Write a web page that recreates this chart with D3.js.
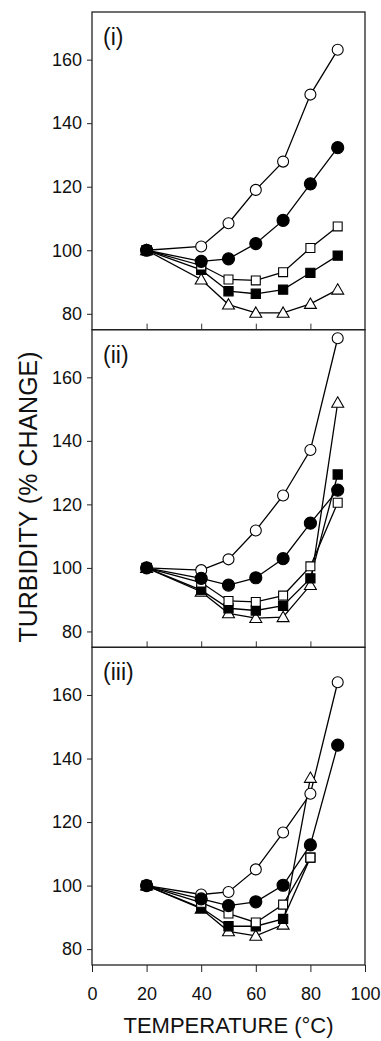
<!DOCTYPE html>
<html>
<head>
<meta charset="utf-8">
<script src="https://cdn.jsdelivr.net/npm/d3@7"></script>
<style>
  html, body { margin: 0; padding: 0; background: #fff; }
  svg { display: block; font-family: "Liberation Sans", Arial, sans-serif; }
</style>
</head>
<body>
<svg id="chart" width="381" height="1041"></svg>
<script>
// ---- Data ----
const temperatures = [20, 40, 50, 60, 70, 80, 90];
const panelLabels = ["(i)", "(ii)", "(iii)"];
const yTicks = [80, 100, 120, 140, 160];
const xTicks = [0, 20, 40, 60, 80, 100];

// Panel (i)
const i_openCircle   = [100, 101.2, 108.5, 119.0, 127.9, 149.0, 163.1];
const i_filledCircle = [100, 96.5, 97.3, 102.1, 109.4, 120.9, 132.3];
const i_openSquare   = [100, 95.2, 90.8, 90.5, 93.1, 100.7, 107.5];
const i_filledSquare = [100, 93.8, 87.1, 86.3, 87.6, 92.9, 98.3];
const i_openTriangle = [100, 90.8, 82.9, 80.3, 80.3, 83.1, 87.6];

// Panel (ii)
const ii_openCircle   = [100, 99.3, 102.7, 111.8, 122.8, 137.1, 172.3];
const ii_filledCircle = [100, 96.7, 94.6, 96.9, 102.9, 114.1, 124.5];
const ii_openSquare   = [100, 95.4, 89.6, 89.3, 91.3, 100.5, 120.5];
const ii_filledSquare = [100, 93.0, 87.3, 86.6, 88.1, 96.7, 129.4];
const ii_openTriangle = [100, 92.5, 85.7, 84.2, 84.5, 94.6, 152.0];

// Panel (iii)
const iii_openCircle   = [100, 97.2, 98.0, 105.1, 116.7, 128.9, 164.0];
const iii_filledCircle = [100, 95.8, 93.7, 94.9, 100.1, 112.8, 144.2];
const iii_openSquare   = [100, 94.6, 91.2, 88.4, 94.0, 108.8, null];
const iii_filledSquare = [100, 93.0, 87.2, 87.2, 89.5, 108.8, null];
const iii_openTriangle = [100, 92.7, 85.6, 84.2, 87.7, 133.9, null];

const seriesTypes = ["openCircle", "filledCircle", "openSquare", "filledSquare", "openTriangle"];
const panelSeries = [
  [i_openCircle, i_filledCircle, i_openSquare, i_filledSquare, i_openTriangle],
  [ii_openCircle, ii_filledCircle, ii_openSquare, ii_filledSquare, ii_openTriangle],
  [iii_openCircle, iii_filledCircle, iii_openSquare, iii_filledSquare, iii_openTriangle]
];
// marker drawing order (last on top)
const drawOrder = [4, 3, 2, 0, 1];

// ---- Layout ----
const svg = d3.select("#chart");
const plotLeft = 92, plotRight = 365, plotTop = 12, plotBottom = 965;
const panelH = (plotBottom - plotTop) / 3;

const x = d3.scaleLinear().domain([0, 100]).range([plotLeft, plotRight]);

const symbolFor = {
  openCircle:   { type: d3.symbolCircle,   size: 95,  fill: "#fff" },
  filledCircle: { type: d3.symbolCircle,   size: 115, fill: "#000" },
  openSquare:   { type: d3.symbolSquare,   size: 80,  fill: "#fff" },
  filledSquare: { type: d3.symbolSquare,   size: 85,  fill: "#000" },
  openTriangle: { type: d3.symbolTriangle, size: 62,  fill: "#fff" }
};

panelSeries.forEach((seriesList, p) => {
  const pTop = plotTop + p * panelH;
  const pBot = pTop + panelH;
  const y = d3.scaleLinear().domain([75, 175]).range([pBot, pTop]);
  const g = svg.append("g");

  // y axis
  const yAxis = d3.axisLeft(y).tickValues(yTicks).tickSize(5).tickPadding(5).tickFormat(d3.format("d"));
  const ya = g.append("g").attr("transform", `translate(${plotLeft},0)`).call(yAxis);
  ya.select(".domain").remove();
  ya.selectAll("line").attr("stroke", "#222");
  ya.selectAll("text").attr("font-size", 18).attr("fill", "#111")
    .attr("font-family", "'Liberation Sans', Arial, sans-serif");

  // x axis
  if (p < 2) {
    const xa = g.append("g").attr("transform", `translate(0,${pBot})`)
      .call(d3.axisTop(x).tickValues([20, 40, 60, 80]).tickSize(6).tickFormat(""));
    xa.select(".domain").remove();
    xa.selectAll("line").attr("stroke", "#333");
  } else {
    const xa = g.append("g").attr("transform", `translate(0,${pBot})`)
      .call(d3.axisBottom(x).tickValues(xTicks).tickSize(7).tickPadding(15).tickFormat(d3.format("d")));
    xa.select(".domain").remove();
    xa.selectAll("line").attr("stroke", "#222");
    xa.selectAll("text").attr("font-size", 18).attr("fill", "#111")
      .attr("font-family", "'Liberation Sans', Arial, sans-serif");
  }

  // frame
  g.append("rect")
    .attr("x", plotLeft).attr("y", pTop)
    .attr("width", plotRight - plotLeft).attr("height", panelH)
    .attr("fill", "none").attr("stroke", "#222").attr("stroke-width", 1.3);

  // panel label
  g.append("text")
    .attr("x", plotLeft + 11).attr("y", pTop + 33)
    .attr("font-size", 23).attr("fill", "#111")
    .text(panelLabels[p]);

  // lines
  const line = d3.line()
    .defined(d => d[1] != null)
    .x(d => x(d[0])).y(d => y(d[1]));

  seriesList.forEach((vals) => {
    const pts = temperatures.map((t, k) => [t, vals[k]]);
    g.append("path")
      .attr("d", line(pts))
      .attr("fill", "none").attr("stroke", "#000").attr("stroke-width", 1.3);
  });

  // markers
  drawOrder.forEach(k => {
    const vals = seriesList[k];
    const st = symbolFor[seriesTypes[k]];
    const pts = temperatures.map((t, j) => [t, vals[j]]).filter(d => d[1] != null);
    g.selectAll(null).data(pts).enter().append("path")
      .attr("transform", d => `translate(${x(d[0])},${y(d[1]) + (st.type === d3.symbolTriangle ? 1 : 0)})`)
      .attr("d", d3.symbol().type(st.type).size(st.size))
      .attr("fill", st.fill).attr("stroke", "#000").attr("stroke-width", 1.1);
  });
});

// axis titles
svg.append("text")
  .attr("x", (plotLeft + plotRight) / 2).attr("y", 1033)
  .attr("text-anchor", "middle").attr("font-size", 22).attr("fill", "#111")
  .text("TEMPERATURE (°C)");

svg.append("text")
  .attr("transform", "translate(37,497) rotate(-90)")
  .attr("text-anchor", "middle").attr("font-size", 25).attr("fill", "#111")
  .text("TURBIDITY (% CHANGE)");
</script>
</body>
</html>
